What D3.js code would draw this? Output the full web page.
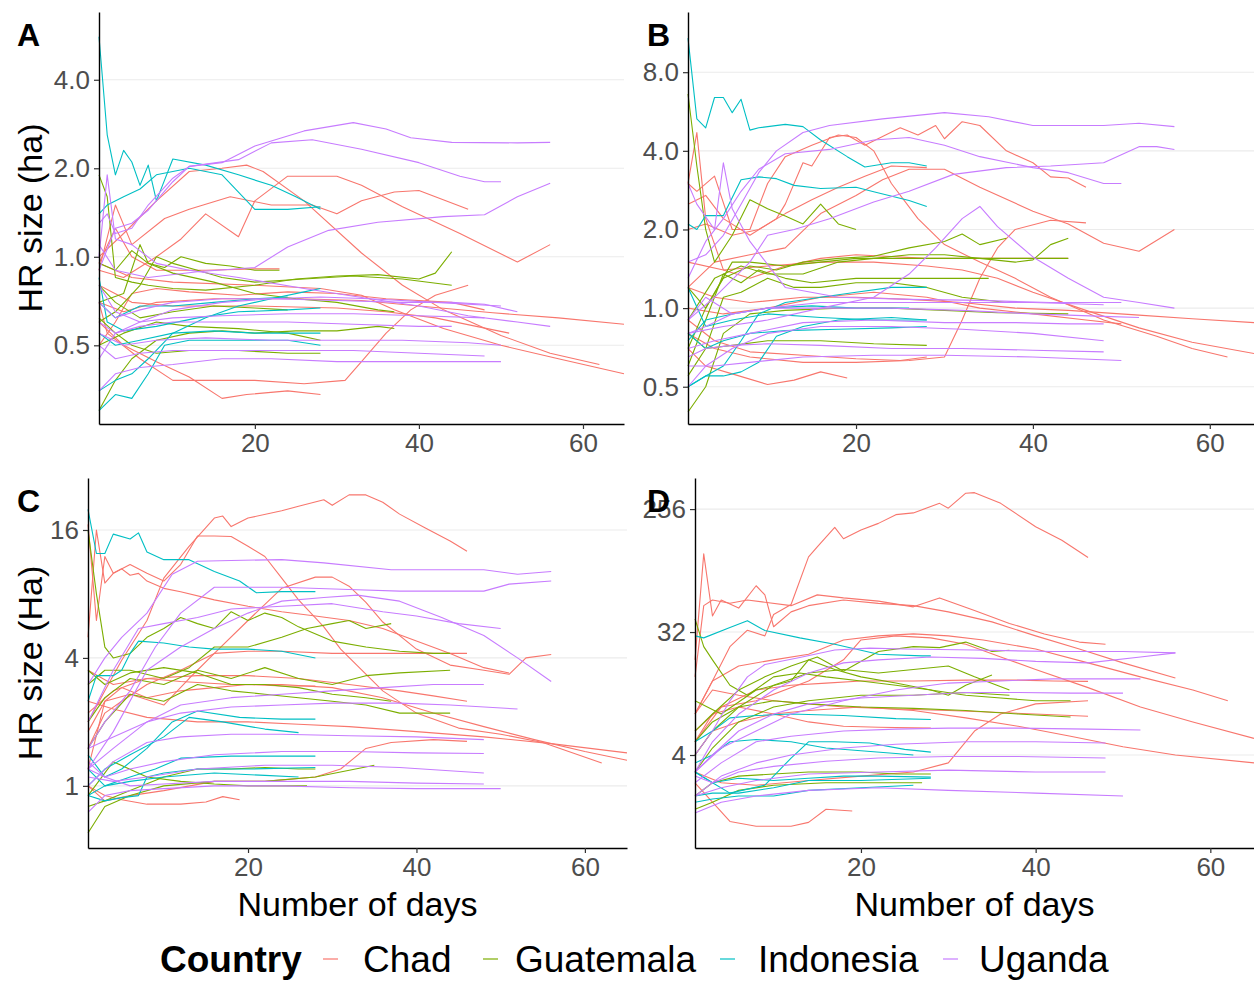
<!DOCTYPE html>
<html>
<head>
<meta charset="utf-8">
<script src="https://cdn.jsdelivr.net/npm/d3@7"></script>
<style>
  body { margin: 0; background: #fff; }
  svg { display: block; font-family: "Liberation Sans", Arial, sans-serif; }
</style>
</head>
<body>
<div id="wrapper"></div>
<script>
// countries and colours (ggplot default hue)
const countries = ["Chad", "Guatemala", "Indonesia", "Uganda"];
const colours = ["#F8766D", "#7CAE00", "#00BFC4", "#C77CFF"];

// tick labels
const dayTicks = [20, 40, 60];
const ticksA = [0.5, 1, 2, 4];
const ticksB = [0.5, 1, 2, 4, 8];
const ticksC = [1, 4, 16];
const ticksD = [4, 32, 256];

// each individual is a list of [day, HR size]
// ---- panel A
const chadA = [
  [[1,1.0],[4,1.2],[8,1.55],[12,1.95],[16,2.0],[19,2.05],[21,1.95],[26,1.55],[33,1.03],[38,0.8],[43,0.66],[50,0.54],[56,0.47],[62,0.43]],
  [[1,0.9],[4,0.85],[8,1.0],[11,1.15],[14,1.4],[18,1.17],[20,1.55],[24,1.88],[30,1.88],[33,1.75],[38,1.48],[45,1.2],[52,0.96],[56,1.1]],
  [[1,0.9],[3,1.5],[5,1.1],[9,1.35],[12,1.45],[17,1.6],[22,1.5],[27,1.5],[30,1.4],[33,1.55],[37,1.66],[40,1.68],[42,1.6],[46,1.45]],
  [[1,0.7],[2,0.55],[6,0.45],[10,0.38],[20,0.38],[26,0.37],[31,0.38],[33,0.44],[36,0.55],[39,0.66],[42,0.74],[46,0.8]],
  [[1,0.6],[4,0.5],[8,0.44],[12,0.39],[16,0.33],[19,0.34],[24,0.35],[28,0.34]],
  [[1,0.7],[4,0.65],[8,0.7],[15,0.72],[25,0.72],[33,0.71],[40,0.68],[49,0.645],[57,0.62],[65,0.59]],
  [[1,0.95],[5,0.85],[10,0.82],[20,0.8],[28,0.78],[33,0.74],[37,0.66],[43,0.57],[50,0.5],[57,0.45],[65,0.4]],
  [[1,0.8],[5,0.7],[10,0.68],[20,0.68],[30,0.67],[36,0.65],[42,0.62],[47,0.58],[51,0.55]],
  [[1,0.95],[3,1.25],[5,1.0],[8,0.9],[14,0.9],[20,0.91],[23,0.91]],
  [[1,0.5],[3,0.6],[5,0.75],[8,0.78],[12,0.76],[18,0.74],[24,0.76],[30,0.75],[36,0.72],[44,0.7],[48,0.66]]
];
const guatemalaA = [
  [[1,1.9],[2,1.6],[3,0.85],[5,0.82],[7,0.8],[10,0.78],[14,0.77],[20,0.8],[25,0.84],[30,0.86],[35,0.87],[40,0.84],[42,0.88],[44,1.04]],
  [[1,0.7],[4,0.75],[6,1.1],[7,0.95],[9,0.92],[11,1.0],[14,0.95],[17,0.93],[20,0.9],[23,0.9]],
  [[1,0.6],[3,0.65],[6,0.8],[8,1.0],[10,0.95],[13,0.9],[16,0.85],[20,0.82],[26,0.84],[32,0.86],[38,0.84],[44,0.8]],
  [[1,0.5],[4,0.55],[8,0.6],[12,0.58],[18,0.57],[24,0.55],[28,0.52]],
  [[1,0.3],[3,0.38],[5,0.45],[8,0.52],[12,0.55],[16,0.56],[20,0.55],[25,0.56],[30,0.56],[35,0.58],[37,0.57]],
  [[1,0.8],[3,0.7],[6,0.62],[10,0.65],[15,0.68],[20,0.67],[24,0.66]],
  [[1,0.62],[3,0.55],[5,0.5],[8,0.47],[12,0.48],[18,0.48],[24,0.47],[28,0.47]],
  [[1,0.95],[3,0.9],[5,1.05],[7,0.95],[10,0.88],[15,0.82],[20,0.75],[25,0.72],[30,0.7],[35,0.66],[37,0.65]]
];
const indonesiaA = [
  [[1,5.6],[2,2.6],[3,1.9],[4,2.3],[5,2.1],[6,1.75],[7,2.05],[8,1.55],[10,2.15],[14,2.05],[18,1.9],[22,1.75],[25,1.6],[28,1.45]],
  [[1,1.4],[2,1.5],[4,1.6],[6,1.7],[8,1.9],[12,2.0],[16,1.9],[20,1.45],[24,1.45],[28,1.48]],
  [[1,0.35],[3,0.38],[5,0.4],[7,0.45],[10,0.55],[14,0.62],[18,0.68],[22,0.72],[26,0.76],[28,0.78]],
  [[1,0.55],[3,0.5],[6,0.52],[10,0.55],[15,0.56],[20,0.55],[24,0.55],[28,0.55]],
  [[1,0.3],[3,0.34],[5,0.33],[7,0.4],[9,0.5],[12,0.52],[18,0.52],[24,0.52],[28,0.5]],
  [[1,0.7],[3,0.62],[6,0.68],[10,0.68],[15,0.7],[20,0.72],[24,0.73]],
  [[1,0.85],[2,0.6],[4,0.56],[8,0.58],[13,0.62],[18,0.65],[24,0.66],[28,0.67]]
];
const ugandaA = [
  [[1,1.3],[2,1.4],[3,1.2],[5,1.25],[7,1.5],[10,1.85],[12,2.03],[16,2.09],[20,2.38],[26,2.68],[32,2.86],[36,2.72],[39,2.54],[44,2.45],[52,2.44],[56,2.45]],
  [[1,0.9],[3,1.25],[5,1.3],[7,1.44],[10,1.8],[12,2.03],[18,2.14],[22,2.44],[27,2.5],[33,2.32],[40,2.09],[45,1.88],[48,1.8],[50,1.8]],
  [[1,1.1],[3,0.9],[7,0.85],[13,0.89],[20,0.92],[24,1.08],[29,1.23],[35,1.31],[43,1.37],[48,1.39],[52,1.6],[56,1.78]],
  [[1,0.35],[3,0.4],[6,0.42],[10,0.43],[16,0.45],[22,0.45],[30,0.44],[38,0.44],[44,0.44],[50,0.44]],
  [[1,0.5],[3,0.45],[6,0.47],[10,0.48],[16,0.48],[24,0.48],[32,0.48],[40,0.47],[48,0.46]],
  [[1,0.6],[3,0.55],[6,0.6],[10,0.66],[16,0.7],[22,0.72],[28,0.73],[34,0.72],[40,0.68],[46,0.63],[52,0.6],[56,0.58]],
  [[1,0.7],[3,0.62],[6,0.66],[10,0.7],[16,0.72],[22,0.72],[30,0.71],[38,0.7],[44,0.7],[48,0.69],[52,0.65]],
  [[1,0.55],[4,0.5],[8,0.52],[14,0.53],[22,0.52],[30,0.52],[38,0.52],[46,0.51],[50,0.5]],
  [[1,0.8],[3,0.65],[6,0.6],[10,0.62],[16,0.63],[24,0.64],[32,0.64],[40,0.63],[48,0.62]],
  [[1,0.45],[3,0.55],[6,0.58],[10,0.6],[16,0.6],[24,0.6],[32,0.59],[40,0.58],[44,0.58]],
  [[1,1.0],[2,1.9],[3,1.15],[5,1.1],[8,0.95],[12,0.9],[18,0.85],[26,0.78],[34,0.72],[42,0.7],[50,0.68]]
];

// ---- panel B
const chadB = [
  [[1,2.5],[3,2.7],[5,2.2],[8,1.9],[11,2.2],[12,2.5],[14,3.6],[15,3.5],[17,4.5],[19,4.6],[21,4.2],[25,4.9],[27,4.6],[29,5.0],[30,4.45],[32,5.17],[34,5.0],[37,4.0],[40,3.6],[42,3.18],[44,3.15],[46,2.9]],
  [[1,3.0],[2,2.8],[4,3.2],[6,2.0],[8,2.0],[10,3.0],[12,3.8],[15,4.2],[18,4.6],[20,4.5],[22,4.0],[24,3.0],[27,2.2],[30,1.75],[34,1.5],[38,1.3],[42,1.1],[48,0.9],[54,0.78],[58,0.7],[62,0.65]],
  [[1,1.2],[4,1.5],[8,1.6],[12,1.7],[16,2.3],[20,2.7],[23,3.1],[26,3.4],[30,3.4],[34,2.9],[40,2.35],[44,2.1],[48,1.77],[52,1.65],[56,2.0]],
  [[1,2.0],[3,2.1],[6,1.9],[9,2.0],[12,2.3],[15,2.6],[18,2.9],[21,3.2],[24,3.5],[28,3.45]],
  [[1,0.8],[4,0.7],[8,0.65],[14,0.62],[20,0.62],[26,0.63],[30,0.65],[32,0.9],[34,1.3],[36,1.7],[38,2.0],[42,2.17],[46,2.12]],
  [[1,1.2],[4,1.1],[8,1.05],[14,1.1],[20,1.1],[26,1.08],[32,1.05],[38,1.0],[44,0.98],[52,0.94],[58,0.91],[65,0.88]],
  [[1,1.5],[5,1.4],[10,1.45],[16,1.5],[22,1.5],[28,1.45],[32,1.4],[36,1.3],[40,1.15],[46,0.98],[52,0.84],[58,0.74],[65,0.67]],
  [[1,1.0],[5,0.95],[10,1.0],[16,1.1],[22,1.15],[28,1.1],[34,1.0],[40,0.95],[46,0.9],[50,0.87]],
  [[1,0.7],[3,0.6],[6,0.56],[10,0.51],[13,0.53],[16,0.57],[19,0.54]],
  [[1,0.9],[4,0.75],[8,0.68],[14,0.66],[20,0.64],[25,0.63],[28,0.65]],
  [[1,3.0],[2,4.7],[3,2.2],[5,1.4],[8,1.3],[12,1.45],[16,1.55],[20,1.6],[28,1.55],[36,1.55],[44,1.55]]
];
const guatemalaB = [
  [[1,6.6],[2,3.5],[3,2.0],[4,1.5],[6,1.9],[8,2.6],[10,2.4],[12,2.25],[14,2.1],[16,2.5],[18,2.1],[20,2.0]],
  [[1,1.2],[3,1.0],[5,1.3],[8,1.45],[11,1.4],[14,1.5],[18,1.55],[22,1.58],[26,1.7],[30,1.8],[32,1.92],[34,1.75],[37,1.85]],
  [[1,0.9],[4,1.3],[7,1.45],[10,1.35],[14,1.35],[18,1.5],[22,1.55],[26,1.6],[30,1.6],[34,1.55],[38,1.5],[40,1.53],[42,1.75],[44,1.85]],
  [[1,0.7],[3,1.0],[6,1.5],[8,1.5],[12,1.45],[16,1.5],[20,1.55],[26,1.55],[32,1.55],[38,1.55],[44,1.55]],
  [[1,0.55],[3,0.7],[5,1.1],[7,1.15],[10,1.3],[13,1.2],[16,1.2],[20,1.25],[24,1.25],[28,1.2],[32,1.1],[37,1.05]],
  [[1,0.4],[3,0.5],[5,0.8],[8,0.95],[12,0.98],[18,1.0],[24,1.0],[30,0.98],[36,0.96],[44,0.95]],
  [[1,0.8],[3,0.7],[6,0.72],[10,0.75],[16,0.75],[22,0.73],[28,0.72]],
  [[1,0.6],[3,0.9],[5,1.35],[7,1.25],[9,1.4],[12,1.3],[15,1.25],[20,1.3],[25,1.3],[30,1.3],[35,1.3]]
];
const indonesiaB = [
  [[1,10.8],[2,5.3],[3,4.9],[4,6.4],[5,6.4],[6,5.6],[7,6.3],[8,4.8],[9,4.9],[12,5.05],[14,4.95],[16,4.4],[19,3.8],[21,3.47],[24,3.6],[26,3.6],[28,3.5]],
  [[1,2.1],[2,2.0],[3,2.26],[5,2.26],[7,3.1],[9,3.18],[11,3.13],[13,2.95],[16,2.87],[20,2.9],[22,2.79],[26,2.58],[28,2.45]],
  [[1,0.5],[3,0.55],[5,0.6],[7,0.75],[9,0.95],[12,1.05],[16,1.1],[20,1.15],[24,1.2],[28,1.2]],
  [[1,0.8],[3,0.7],[5,0.75],[8,0.8],[12,0.82],[18,0.83],[24,0.84],[28,0.85]],
  [[1,1.2],[3,0.85],[6,0.9],[10,0.95],[16,0.92],[22,0.9],[28,0.9]],
  [[1,0.5],[3,0.55],[5,0.55],[7,0.57],[9,0.62],[11,0.78],[14,0.85],[18,0.9],[24,0.92],[28,0.9]],
  [[1,0.75],[3,0.9],[6,0.95],[10,1.0],[15,1.02],[20,1.0],[26,1.0]]
];
const ugandaB = [
  [[1,1.5],[3,1.6],[5,1.9],[7,2.5],[9,3.3],[11,4.0],[14,4.7],[17,5.0],[23,5.3],[30,5.6],[35,5.4],[40,5.0],[48,5.0],[52,5.1],[56,4.95]],
  [[1,1.3],[3,1.8],[5,2.2],[7,2.8],[9,3.4],[12,3.9],[17,4.05],[22,4.4],[26,4.5],[30,4.2],[34,3.8],[40,3.45],[44,3.3],[48,3.0],[50,3.0]],
  [[1,0.9],[4,1.1],[8,1.5],[10,1.9],[13,2.0],[17,2.2],[22,2.55],[26,2.8],[31,3.25],[37,3.45],[42,3.5],[48,3.6],[52,4.15],[54,4.15],[56,4.05]],
  [[1,0.8],[5,0.85],[10,0.9],[16,1.0],[22,1.1],[26,1.35],[29,1.7],[32,2.2],[34,2.45],[36,2.05],[40,1.57],[44,1.3],[48,1.1],[52,1.05],[56,1.0]],
  [[1,0.5],[3,0.6],[6,0.7],[10,0.8],[16,0.85],[24,0.85],[32,0.83],[40,0.8],[48,0.75]],
  [[1,0.6],[4,0.6],[8,0.62],[14,0.65],[22,0.66],[30,0.66],[40,0.65],[50,0.63]],
  [[1,0.8],[3,0.85],[6,0.95],[10,1.0],[16,1.05],[24,1.05],[32,1.05],[40,1.05],[48,1.03]],
  [[1,0.9],[3,1.1],[6,0.95],[10,1.0],[16,1.0],[24,1.0],[32,0.98],[40,0.95],[48,0.93],[52,0.92]],
  [[1,0.7],[4,0.75],[8,0.8],[14,0.88],[22,0.9],[30,0.88],[38,0.88],[44,0.87],[48,0.87]],
  [[1,0.65],[3,0.7],[6,0.72],[10,0.73],[16,0.72],[24,0.7],[32,0.7],[40,0.69],[48,0.68]],
  [[1,3.0],[2,2.5],[4,2.0],[5,3.6],[6,2.4],[8,1.8],[12,1.2],[18,1.1],[26,1.08],[34,1.07],[42,1.05],[50,1.05]]
];

// ---- panel C
const chadC = [
  [[1,2.0],[3,2.8],[5,3.9],[8,6.0],[10,9.5],[13,13.4],[16,18.2],[17,18.6],[18,16.6],[20,18.2],[24,19.7],[26,20.7],[29,22.2],[30,20.9],[32,23.4],[34,23.4],[36,21.6],[38,19],[41,16.4],[44,14.2],[46,12.7]],
  [[1,17],[2,6],[3,12],[4,10],[6,11],[8,10],[10,9.2],[12,11],[14,15],[16,15],[18,14.9],[20,13.4],[22,12],[24,9.5],[26,7.5],[29,5.6],[31,4.4],[36,2.8],[40,2.2],[45,1.87],[50,1.75],[55,1.6],[62,1.28]],
  [[1,5],[2,16],[3,9],[4,10],[5,10.5],[6,9.8],[7,10],[8,9.2],[10,8.5],[12,8.2],[16,7.5],[20,7.0],[24,6.6],[28,6.3],[32,6.0],[36,5.5],[40,4.8],[44,4.2],[48,3.6],[51,3.4]],
  [[1,1.5],[3,2.2],[5,2.5],[8,3.0],[12,3.5],[16,4.2],[20,6.0],[24,8.5],[28,9.6],[30,9.6],[32,8.7],[34,7.3],[36,5.9],[40,4.4],[44,3.7],[48,3.5],[51,3.35],[53,4.0],[56,4.15]],
  [[1,1.0],[3,0.85],[6,0.9],[10,0.95],[16,1.05],[22,1.05],[28,1.1],[31,1.2],[34,1.5],[37,1.6],[42,1.65],[46,1.62]],
  [[1,2.5],[4,2.3],[8,2.1],[14,2.0],[20,2.0],[26,1.95],[32,1.9],[40,1.8],[48,1.7],[56,1.58],[65,1.43]],
  [[1,3.5],[4,3.0],[8,3.2],[12,3.1],[18,3.0],[24,3.0],[30,2.9],[36,2.6],[42,2.2],[48,1.9],[54,1.65],[60,1.45],[65,1.32]],
  [[1,2.2],[4,2.8],[8,3.2],[14,3.3],[20,3.3],[26,3.2],[32,3.0],[38,2.8],[42,2.65],[46,2.5]],
  [[1,1.0],[3,0.9],[5,0.86],[8,0.82],[12,0.82],[15,0.84],[17,0.89],[19,0.86]],
  [[1,1.8],[3,2.5],[6,2.7],[10,2.4],[13,3.2],[16,4.2],[20,4.3],[24,4.3],[30,4.2],[36,4.2],[42,4.2],[46,4.2]],
  [[1,1.2],[3,2.5],[5,2.9],[8,2.6],[12,2.8],[16,2.9],[20,3.0],[24,2.95],[28,2.95]]
];
const guatemalaC = [
  [[1,16],[2,8],[3,4.5],[4,4.0],[6,4.2],[8,5.0],[10,5.5],[12,6.2],[14,5.8],[16,5.5],[18,6.6],[20,6.0],[22,6.5],[24,6.2],[26,5.6],[30,4.8],[34,4.5],[38,4.3],[42,4.2],[44,4.2]],
  [[1,3.0],[3,3.5],[6,3.5],[10,3.2],[13,3.6],[16,4.5],[20,4.5],[24,5.0],[27,5.5],[30,5.8],[32,6.0],[34,5.5],[37,5.8]],
  [[1,2.0],[3,2.6],[6,3.2],[10,3.0],[14,3.5],[18,3.2],[22,3.6],[26,3.2],[30,3.0],[34,3.3],[38,3.4],[44,3.5]],
  [[1,1.5],[3,2.0],[6,2.7],[10,2.5],[14,3.0],[18,2.8],[22,2.7],[26,2.6],[30,2.5],[34,2.4],[38,2.2],[44,2.2]],
  [[1,3.5],[3,3.0],[6,3.4],[10,3.6],[14,3.4],[18,3.0],[22,3.0],[26,2.9],[30,2.7],[34,2.6],[37,2.5]],
  [[1,0.8],[3,0.85],[6,0.95],[10,1.1],[14,1.2],[18,1.2],[22,1.22],[26,1.2],[28,1.2]],
  [[1,0.6],[3,0.8],[6,0.9],[10,1.0],[16,1.05],[22,1.05],[28,1.1],[35,1.25]],
  [[1,0.9],[4,1.3],[8,1.1],[12,1.05],[16,1.02],[20,1.0],[24,1.0],[27,1.0]]
];
const indonesiaC = [
  [[1,20],[2,12.4],[3,12.4],[4,15.3],[6,14.5],[7,15.5],[8,12.6],[10,11.6],[13,11.6],[16,10.2],[19,9.2],[21,8.1],[24,8.2],[28,8.2]],
  [[1,2.5],[2,3.3],[4,3.3],[5,3.5],[6,4.2],[7,4.8],[10,4.7],[13,4.5],[16,4.4],[20,4.4],[24,4.3],[28,4.0]],
  [[1,1.4],[3,1.1],[5,1.2],[8,1.5],[11,2.0],[14,2.25],[19,2.1],[24,2.06],[28,2.06]],
  [[1,1.0],[3,1.2],[6,1.4],[10,1.7],[13,2.1],[17,2.0],[22,1.85],[26,1.78]],
  [[1,0.9],[3,1.0],[6,1.1],[9,1.2],[12,1.35],[18,1.38],[24,1.38],[28,1.38]],
  [[1,0.9],[3,0.85],[5,0.88],[7,0.9],[8,1.1],[10,1.15],[14,1.2],[20,1.2],[28,1.22]],
  [[1,1.2],[3,1.0],[6,1.05],[10,1.1],[16,1.15],[22,1.12],[26,1.1]]
];
const ugandaC = [
  [[1,3],[3,4],[5,5],[8,6.5],[11,9.9],[14,11.4],[18,11.5],[24,11.6],[29,11.2],[37,10.4],[48,10.4],[52,9.9],[56,10.2]],
  [[1,1.5],[3,2.0],[6,2.8],[9,4.5],[12,6.5],[16,8.6],[24,8.6],[32,8.4],[38,8.25],[48,8.25],[51,8.9],[56,9.2]],
  [[1,2],[4,3.5],[7,5.5],[10,5.8],[14,6.2],[18,6.8],[24,7.0],[30,7.2],[36,6.6],[40,6.3],[45,5.8],[50,5.5]],
  [[1,1.2],[4,1.8],[8,3.5],[12,4.5],[16,5.5],[20,6.5],[24,7.4],[29,7.7],[33,7.9],[38,7.4],[43,6.2],[48,5.1],[52,4.0],[56,3.1]],
  [[1,1.5],[4,1.7],[8,2.0],[12,2.4],[18,2.6],[24,2.7],[30,2.8],[36,2.9],[42,3.0],[48,3.0]],
  [[1,1.2],[4,1.5],[8,2.0],[12,2.2],[18,2.35],[24,2.4],[30,2.45],[38,2.45],[44,2.4],[52,2.3]],
  [[1,1.0],[4,1.3],[8,1.6],[12,1.7],[18,1.75],[24,1.75],[32,1.72],[40,1.7],[48,1.65]],
  [[1,1.2],[3,1.1],[6,1.2],[10,1.3],[16,1.4],[24,1.45],[32,1.45],[40,1.43],[48,1.42]],
  [[1,1.1],[4,1.05],[8,1.1],[14,1.2],[22,1.25],[30,1.25],[38,1.22],[48,1.15]],
  [[1,1.3],[3,1.1],[6,1.0],[10,1.02],[16,1.05],[24,1.05],[32,1.05],[40,1.03],[48,1.02]],
  [[1,0.75],[3,0.9],[6,0.95],[10,0.97],[16,1.0],[24,1.0],[32,0.98],[40,0.97],[50,0.97]]
];

// ---- panel D
const chadD = [
  [[1,8],[3,14],[5,25],[7,33],[9,30],[10,43],[12,51],[14,114],[15,135],[17,188],[18,155],[20,180],[22,201],[24,233],[26,240],[29,282],[30,260],[32,335],[33,338],[36,282],[40,190],[43,151],[46,113]],
  [[1,15],[2,50],[3,55],[5,52],[7,55],[9,53],[12,50],[15,60],[18,57],[22,54],[26,49],[29,57],[33,46],[37,37],[41,31],[45,27],[48,26]],
  [[1,20],[2,120],[3,42],[4,55],[6,48],[8,70],[9,60],[10,35],[12,45],[14,50],[18,55],[22,52],[26,50],[30,45],[35,38],[40,30],[45,24],[50,19],[56,14.7]],
  [[1,8],[3,14],[6,18],[10,20],[14,22],[18,28],[22,30],[26,31],[30,30],[34,28],[40,24],[46,19],[52,15],[58,12],[62,10]],
  [[1,5],[4,9],[8,10],[14,14],[18,20],[20,28],[24,30],[28,29],[32,26],[36,21],[40,17],[46,12.5],[52,9],[58,7],[65,5.3]],
  [[1,4],[3,6],[6,7],[10,8],[14,8.5],[20,9],[26,8.5],[32,7.5],[38,6.5],[44,5.5],[50,4.6],[56,4.0],[65,3.5]],
  [[1,2.5],[3,1.8],[5,1.3],[8,1.2],[12,1.2],[14,1.28],[16,1.6],[19,1.55]],
  [[1,6],[4,9],[8,12],[12,13],[16,13.5],[20,14],[26,14],[32,14.2],[38,14.2],[42,14],[46,13.9]],
  [[1,8],[3,12],[6,11],[10,10],[14,9.5],[18,9],[24,8.7],[30,8.5],[36,8.2],[42,7.9],[46,7.7]],
  [[1,5],[3,8],[6,9],[10,8],[14,7],[18,6.5],[22,6.4],[28,6.3]],
  [[1,3],[4,2.5],[8,2.4],[14,2.6],[20,2.8],[26,3.0],[30,3.5],[33,6],[36,8],[40,9.5],[46,10]]
];
const guatemalaD = [
  [[1,40],[2,25],[3,20],[5,13],[7,11],[10,15],[13,16],[16,15],[20,14],[24,13],[28,12],[32,11],[36,10.5],[40,10],[44,10]],
  [[1,6],[3,8],[6,12],[9,15],[12,18],[15,21],[18,16.5],[22,23],[26,25],[29,24.6],[32,27],[35,23],[37,23.5]],
  [[1,10],[4,8],[8,12],[12,14],[14,20],[17,17],[20,15],[24,13.5],[28,12],[30,11],[32,13],[35,15.5]],
  [[1,5],[3,7],[6,9],[10,10],[14,9.5],[20,9],[26,8.8],[32,8.5],[38,8],[44,7.6]],
  [[1,4],[3,6],[6,9],[10,13],[14,16],[18,17],[22,16],[26,17],[30,18],[33,15],[37,12]],
  [[1,2],[3,2.5],[6,2.8],[10,2.9],[14,3.0],[20,3.0],[24,2.9],[28,2.9]],
  [[1,1.6],[3,1.8],[6,2.2],[10,2.4],[16,2.5],[22,2.5],[27,2.5]],
  [[1,3],[3,4.5],[6,7],[10,9],[14,10],[20,11],[26,11],[32,11.5],[37,11]]
];
const indonesiaD = [
  [[1,30],[2,29],[5,34.5],[7,38.8],[9,32.8],[13,29],[17,26],[22,22],[27,21.4],[28,21.4]],
  [[1,3.5],[3,4],[5,5],[8,5.2],[12,5.0],[16,4.5],[20,4.3],[24,4.1],[26,4.0]],
  [[1,3],[3,2.5],[5,2.1],[9,2.4],[12,3.8],[14,5.0],[17,5.0],[21,4.9],[25,4.4],[28,4.2]],
  [[1,3],[3,2.5],[6,2.7],[10,2.6],[14,2.7],[18,2.8],[22,2.8],[28,2.75]],
  [[1,2],[3,2.1],[6,2.1],[10,2.3],[14,2.6],[20,2.6],[28,2.7]],
  [[1,5],[3,6],[5,7.5],[8,7.8],[12,8.0],[18,7.8],[24,7.4],[28,7.3]],
  [[1,1.8],[3,1.9],[6,2.0],[10,2.0],[14,2.2],[20,2.3],[26,2.4]]
];
const ugandaD = [
  [[1,4],[3,6],[5,10],[7,15],[9,18.5],[13,20.8],[17,23.6],[21,24.4],[25,24],[33,23.6],[42,23],[50,23],[56,22.5]],
  [[1,3],[3,5],[6,8],[10,12],[14,16],[18,19],[22,20],[28,21],[34,20.5],[40,19.5],[46,19],[52,21],[56,22.5]],
  [[1,3],[3,4],[6,6],[10,8],[14,9.5],[20,10.5],[26,11],[32,11.5],[38,11.5],[44,11.4],[50,11.4]],
  [[1,2.5],[4,3.5],[8,5],[12,5.5],[18,6],[24,6.2],[30,6.3],[38,6.3],[46,6.2],[52,6.1]],
  [[1,2],[4,2.8],[8,3.5],[12,4],[18,4.5],[24,4.8],[32,5],[40,5],[48,4.9]],
  [[1,2.8],[3,2.5],[6,3],[10,3.3],[16,3.6],[22,3.8],[30,3.9],[38,3.9],[48,3.8]],
  [[1,2],[4,2.3],[8,2.6],[14,2.9],[22,3.0],[30,3.1],[40,3.0],[48,3.0]],
  [[1,1.5],[4,1.8],[8,2.0],[14,2.2],[22,2.3],[30,2.2],[40,2.1],[50,2.0]],
  [[1,3],[4,4.5],[8,6],[12,8],[18,10],[24,12],[30,13.5],[36,14],[42,14.5],[48,14.5],[52,14.5]]
];

// panel layout (pixels)
const panels = [
  { id: "A", series: [chadA, guatemalaA, indonesiaA, ugandaA], left: 99, right: 624, top: 12, bottom: 424,
    yDomain: [0.27, 6.8], yTicks: ticksA, fmt: d3.format(".1f"), yTitle: "HR size (ha)", xTitle: null },
  { id: "B", series: [chadB, guatemalaB, indonesiaB, ugandaB], left: 688, right: 1254, top: 12, bottom: 424,
    yDomain: [0.36, 13.6], yTicks: ticksB, fmt: d3.format(".1f"), yTitle: null, xTitle: null },
  { id: "C", series: [chadC, guatemalaC, indonesiaC, ugandaC], left: 88, right: 627, top: 478, bottom: 848,
    yDomain: [0.51, 28.1], yTicks: ticksC, fmt: d3.format("d"), yTitle: "HR size (Ha)", xTitle: "Number of days" },
  { id: "D", series: [chadD, guatemalaD, indonesiaD, ugandaD], left: 695, right: 1254, top: 478, bottom: 848,
    yDomain: [0.83, 433], yTicks: ticksD, fmt: d3.format("d"), yTitle: null, xTitle: "Number of days" }
];

const width = 1254, height = 983;
const svg = d3.select("#wrapper").append("svg")
  .attr("width", width)
  .attr("height", height);

function drawPanel(p) {
  const g = svg.append("g");
  const xScaler = d3.scaleLinear().domain([1, 65]).range([p.left, p.right]);
  const yScaler = d3.scaleLog().domain(p.yDomain).range([p.bottom, p.top]);

  // horizontal grid
  g.append("g").selectAll("line").data(p.yTicks).join("line")
    .attr("x1", p.left).attr("x2", p.right)
    .attr("y1", d => yScaler(d)).attr("y2", d => yScaler(d))
    .attr("stroke", "#ebebeb").attr("stroke-width", 1.1);

  const lineGenerator = d3.line()
    .x(d => xScaler(d[0]))
    .y(d => yScaler(d[1]));

  p.series.forEach((lines, i) => {
    g.append("g").selectAll("path").data(lines).join("path")
      .attr("fill", "none")
      .attr("stroke", colours[i])
      .attr("stroke-width", 1.1)
      .attr("stroke-linejoin", "round")
      .attr("d", lineGenerator);
  });

  // axes
  const xAxis = g.append("g")
    .attr("transform", `translate(0,${p.bottom})`)
    .call(d3.axisBottom(xScaler).tickValues(dayTicks).tickSize(5).tickSizeOuter(0).tickPadding(5));
  const yAxis = g.append("g")
    .attr("transform", `translate(${p.left},0)`)
    .call(d3.axisLeft(yScaler).tickValues(p.yTicks).tickFormat(p.fmt).tickSize(5).tickSizeOuter(0).tickPadding(4));

  [xAxis, yAxis].forEach(ax => {
    ax.select(".domain").attr("stroke", "#000").attr("stroke-width", 1.4);
    ax.selectAll(".tick line").attr("stroke", "#333").attr("stroke-width", 1.2);
    ax.selectAll(".tick text")
      .attr("fill", "#4d4d4d")
      .style("font-size", "26px")
      .style("font-family", "'Liberation Sans', Arial, sans-serif");
  });

  // panel letter
  svg.append("text")
    .attr("x", p.id === "A" || p.id === "C" ? 17 : 647)
    .attr("y", p.top + 34)
    .attr("font-size", 32).attr("font-weight", "bold")
    .text(p.id);

  if (p.yTitle) {
    svg.append("text")
      .attr("transform", `translate(42,${(p.top + p.bottom) / 2}) rotate(-90)`)
      .attr("text-anchor", "middle")
      .attr("font-size", 34)
      .text(p.yTitle);
  }
  if (p.xTitle) {
    svg.append("text")
      .attr("x", (p.left + p.right) / 2)
      .attr("y", 916)
      .attr("text-anchor", "middle")
      .attr("font-size", 34)
      .text(p.xTitle);
  }
}

panels.forEach(drawPanel);

// legend
const legend = svg.append("g");
legend.append("text")
  .attr("x", 160).attr("y", 972)
  .attr("font-size", 37).attr("font-weight", "bold")
  .text("Country");
const keyX = [323, 483, 720, 943];
const labelX = [363, 515, 758, 979];
countries.forEach((c, i) => {
  legend.append("line")
    .attr("x1", keyX[i]).attr("x2", keyX[i] + 15)
    .attr("y1", 959).attr("y2", 959)
    .attr("stroke", colours[i]).attr("stroke-width", 1.2);
  legend.append("text")
    .attr("x", labelX[i]).attr("y", 972)
    .attr("font-size", 37)
    .text(c);
});
</script>
</body>
</html>
